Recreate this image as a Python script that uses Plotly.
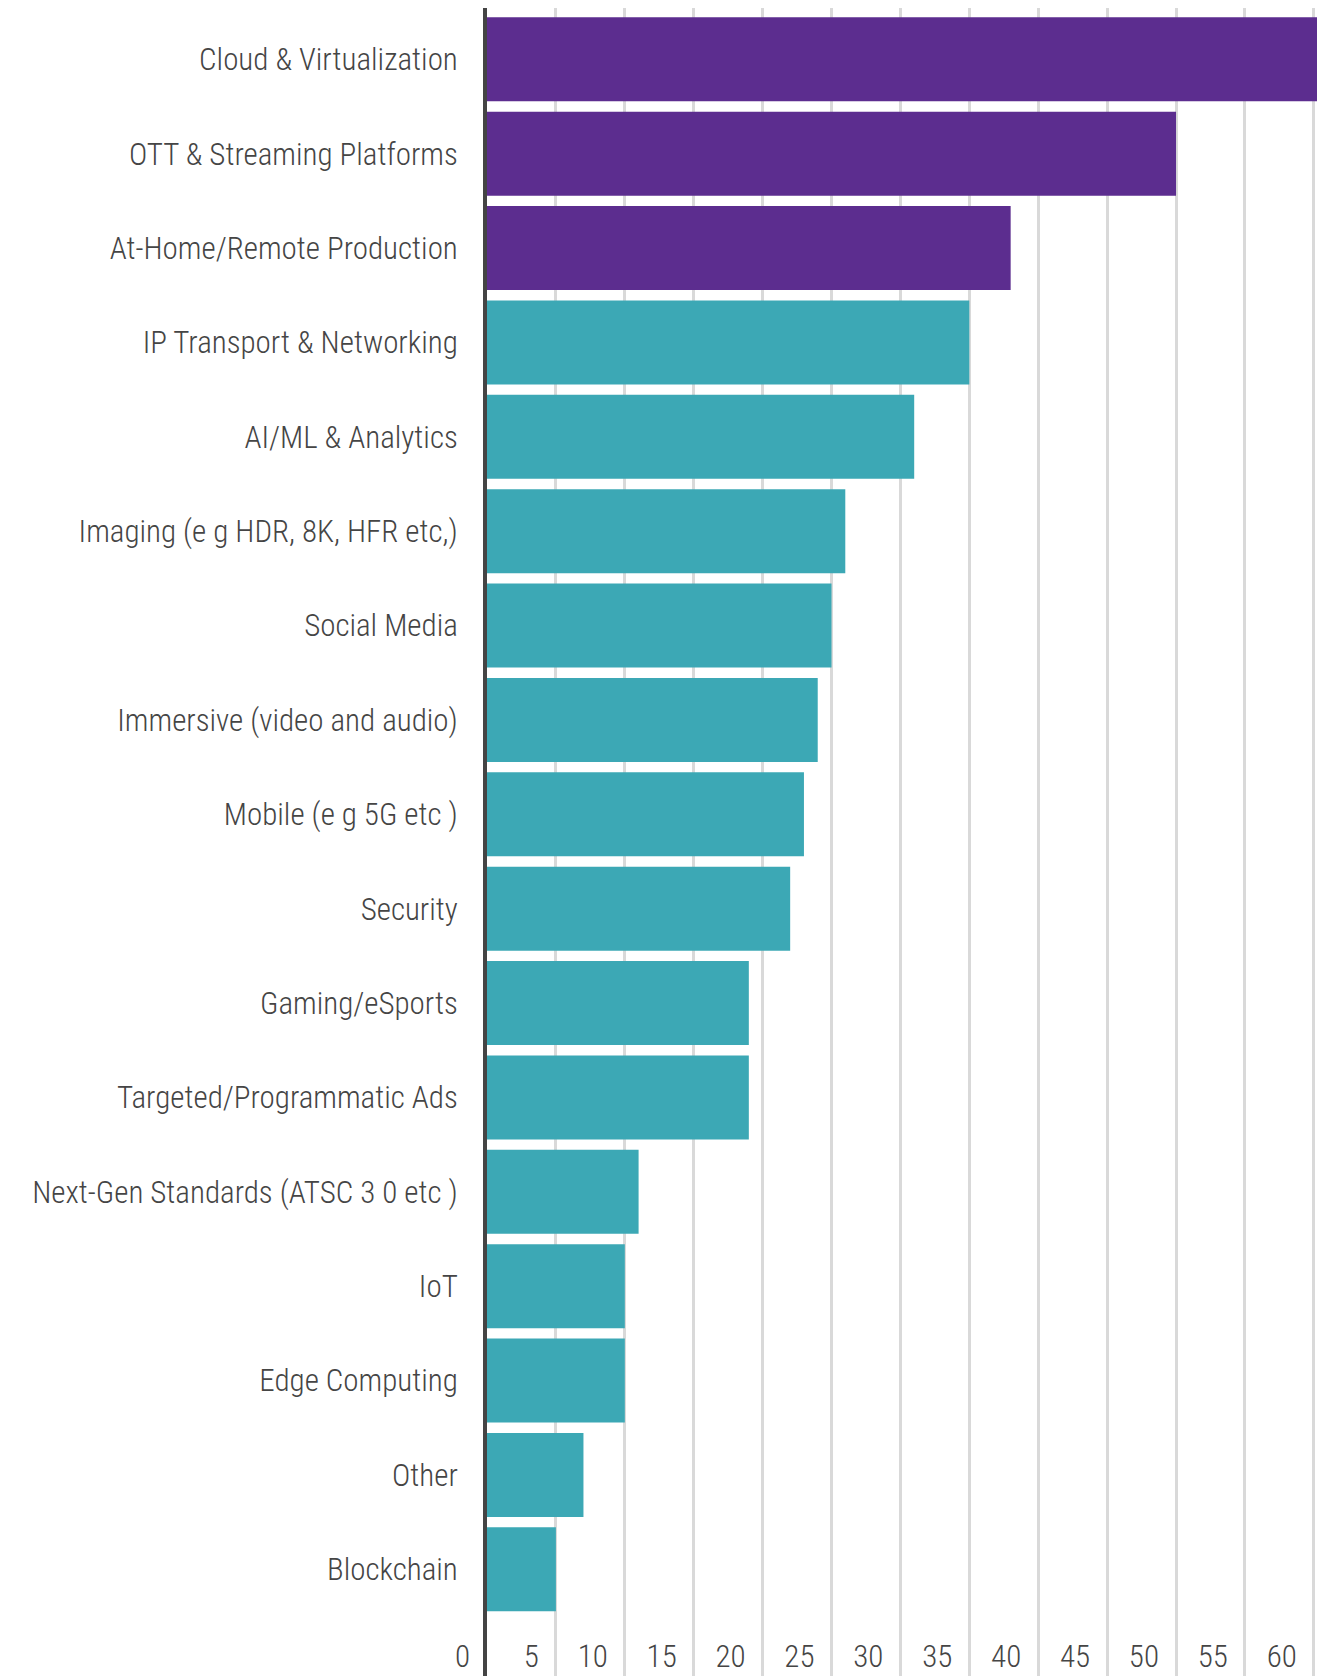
import plotly.graph_objects as go

# Technology areas, listed top to bottom as they appear on the chart
categories = [
    "Cloud & Virtualization",
    "OTT & Streaming Platforms",
    "At-Home/Remote Production",
    "IP Transport & Networking",
    "AI/ML & Analytics",
    "Imaging (e g HDR, 8K, HFR etc,)",
    "Social Media",
    "Immersive (video and audio)",
    "Mobile (e g 5G etc )",
    "Security",
    "Gaming/eSports",
    "Targeted/Programmatic Ads",
    "Next-Gen Standards (ATSC 3 0 etc )",
    "IoT",
    "Edge Computing",
    "Other",
    "Blockchain",
]
values = [61, 50, 38, 35, 31, 26, 25, 24, 23, 22, 19, 19, 11, 10, 10, 7, 5]

# x-axis ticks
x_ticks = [0, 5, 10, 15, 20, 25, 30, 35, 40, 45, 50, 55, 60]

PURPLE = "#5c2d8f"
TEAL = "#3ca8b5"
TEXT = "#454545"
FONT = "Roboto Condensed, Liberation Sans Narrow, DejaVu Sans Condensed, sans-serif"

# the three leading areas are highlighted
bar_colors = [PURPLE if i < 3 else TEAL for i in range(len(values))]

fig = go.Figure(
    go.Bar(
        x=values,
        y=categories,
        orientation="h",
        marker=dict(color=bar_colors, line=dict(width=0)),
        hoverinfo="x+y",
    )
)

fig.update_layout(
    template="none",
    width=1317,
    height=1676,
    autosize=False,
    margin=dict(l=487, r=0, t=8, b=0, pad=0),
    paper_bgcolor="white",
    plot_bgcolor="white",
    bargap=0.11,
    showlegend=False,
    font=dict(family=FONT, size=31, color=TEXT, weight=300),
)

tick_font = dict(family=FONT, size=31, color=TEXT, weight=300)

fig.update_xaxes(
    automargin=False,
    range=[0, 60.23],
    tickmode="array",
    tickvals=x_ticks,
    ticktext=[str(v) for v in x_ticks],
    showgrid=True,
    gridcolor="#d9d9d9",
    gridwidth=3,
    zeroline=False,
    showline=False,
    ticks="",
    anchor="free",
    position=0.0245,
    ticklabelposition="outside left",
    ticklabelshift=-17,
    tickfont=tick_font,
)

fig.update_yaxes(
    automargin=False,
    type="category",
    categoryorder="array",
    categoryarray=categories,
    range=[17.1306, -0.5436],
    showgrid=False,
    zeroline=False,
    showline=True,
    linecolor="#444444",
    linewidth=4,
    ticks="",
    ticklabelstandoff=19,
    tickfont=tick_font,
)

fig.write_html("out.html")
